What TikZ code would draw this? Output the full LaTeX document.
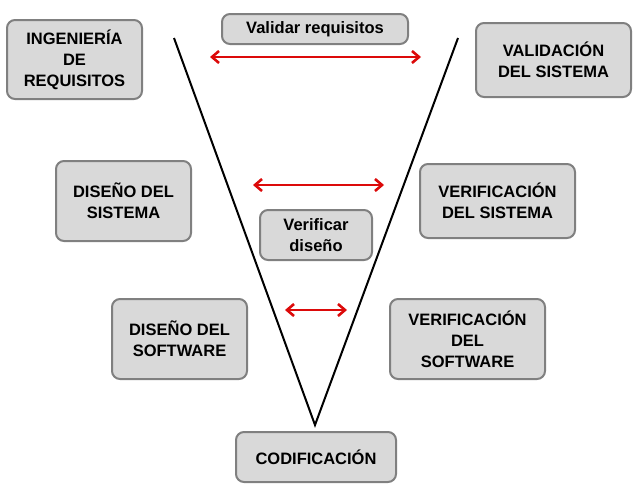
\documentclass[tikz,border=0pt]{standalone}
\usepackage{fontspec}
\setmainfont{Liberation Sans}
\usetikzlibrary{arrows.meta}
\definecolor{cajagris}{RGB}{217,217,217}
\definecolor{bordegris}{RGB}{128,128,128}
\definecolor{rojoflecha}{RGB}{220,10,10}
\newcommand{\caja}[7][]{
	\path (#2,#3) node[draw=bordegris, fill=cajagris, line width=2pt, rounded corners=8pt, align=center, font=\fontsize{16.5}{21}\selectfont\bfseries, inner sep=0pt, minimum width=#4pt, minimum height=#5pt, #1](#6){#7};
}
\newcommand{\flecha}[3][]{
	\draw[rojoflecha, line width=2.6pt, {Straight Barb[length=7pt,width=12pt]}-{Straight Barb[length=7pt,width=12pt]}, #1] (#2) -- (#3);
}

\begin{document}
\begin{tikzpicture}[x=1pt, y=-1pt]
	\useasboundingbox (0,0) rectangle (640,490);

	\caja{74.5}{59.5}{135}{79}{ingreq}{INGENIERÍA\\DE\\REQUISITOS};
	\caja{315}{29}{186}{30}{valreq}{Validar requisitos};
	\caja{553.5}{60}{155}{74}{valsis}{VALIDACIÓN\\DEL SISTEMA};
	\caja{123.5}{201}{135}{80}{dissis}{DISEÑO DEL\\SISTEMA};
	\caja{497.5}{201}{155}{74}{versis}{VERIFICACIÓN\\DEL SISTEMA};
	\caja{316}{235}{112}{50}{verdis}{Verificar\\diseño};
	\caja{179.5}{339}{135}{80}{dissof}{DISEÑO DEL\\SOFTWARE};
	\caja{467.5}{339}{155}{80}{versof}{VERIFICACIÓN\\DEL\\SOFTWARE};
	\caja{316}{457}{160}{50}{cod}{CODIFICACIÓN};

	\coordinate (vizq) at (174,38);
	\coordinate (vder) at (458,38);
	\coordinate (vfondo) at (315,425);
	\draw[line width=2pt] (vizq) -- (vfondo) -- (vder);

	\coordinate (a1) at (210,57);
	\coordinate (b1) at (421,57);
	\coordinate (a2) at (253,185);
	\coordinate (b2) at (384,185);
	\coordinate (a3) at (285,310);
	\coordinate (b3) at (347,310);

	\flecha{a1}{b1};
	\flecha{a2}{b2};
	\flecha{a3}{b3};
\end{tikzpicture}
\end{document}
